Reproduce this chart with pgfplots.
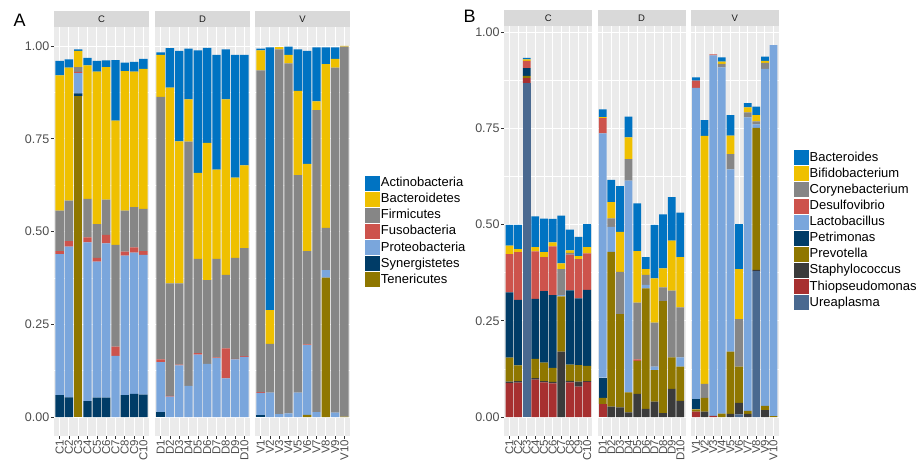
\documentclass[border=0pt]{standalone}
\usepackage{fontspec}
\setmainfont{Liberation Sans}
\usepackage{pgfplots}
\usepackage{pgfplotstable}
\pgfplotsset{compat=1.18}

\definecolor{cBlue}{HTML}{0073C2}
\definecolor{cYellow}{HTML}{EFC000}
\definecolor{cGray}{HTML}{868686}
\definecolor{cRed}{HTML}{CD534C}
\definecolor{cLBlue}{HTML}{7AA6DC}
\definecolor{cNavy}{HTML}{003C67}
\definecolor{cOlive}{HTML}{8F7700}
\definecolor{cDGray}{HTML}{3B3B3B}
\definecolor{cDRed}{HTML}{A73030}
\definecolor{cSlate}{HTML}{4A6990}
\definecolor{panelbg}{HTML}{EBEBEB}
\definecolor{stripbg}{HTML}{D9D9D9}
\definecolor{gray30}{HTML}{4D4D4D}
\definecolor{gray20}{HTML}{333333}
\definecolor{gray10}{HTML}{1A1A1A}

% panel A: phylum level
\pgfplotstableread{
n Ten Syn Prot Fuso Firm Bact Act
1 0 0.059 0.380 0.008 0.109 0.365 0.039
2 0 0.053 0.406 0.015 0.109 0.359 0.022
3 0.865 0.007 0.055 0.003 0.013 0.044 0.004
4 0 0.043 0.428 0.013 0.104 0.360 0.020
5 0 0.052 0.367 0.010 0.091 0.411 0.029
6 0 0.052 0.416 0.023 0.095 0.357 0.018
7 0 0 0.165 0.025 0.274 0.335 0.163
8 0 0.059 0.376 0.011 0.110 0.376 0.023
9 0 0.062 0.381 0.014 0.109 0.365 0.026
10 0 0.060 0.377 0.010 0.114 0.377 0.027
}\tabAC
\pgfplotstableread{
n Ten Syn Prot Fuso Firm Bact Act
1 0 0.013 0.135 0.007 0.708 0.113 0.007
2 0 0 0.055 0.002 0.303 0.528 0.106
3 0 0 0.139 0.002 0.219 0.383 0.244
4 0 0 0.084 0 0.658 0.114 0.137
5 0 0 0.168 0.004 0.254 0.232 0.330
6 0 0 0.143 0 0.226 0.370 0.256
7 0 0 0.159 0.002 0.265 0.241 0.309
8 0 0 0.104 0.081 0.198 0.473 0.135
9 0 0 0.155 0.002 0.272 0.216 0.331
10 0 0 0.162 0.002 0.291 0.223 0.298
}\tabAD
\pgfplotstableread{
n Ten Syn Prot Fuso Firm Bact Act
1 0 0.005 0.060 0.002 0.867 0.054 0.005
2 0 0 0.066 0 0.131 0.091 0.708
3 0 0 0.008 0 0.983 0.006 0
4 0 0 0.010 0 0.943 0.023 0.022
5 0 0 0.066 0 0.586 0.227 0.112
6 0.006 0 0.188 0.002 0.251 0.235 0.305
7 0 0 0.013 0 0.814 0.024 0.145
8 0.376 0 0.020 0 0.114 0.441 0.045
9 0 0 0.012 0 0.930 0.023 0.031
10 0.001 0 0 0 0.997 0.002 0
}\tabAV

% panel B: genus level
\pgfplotstableread{
n Ure Thio Staph Prev Petr Lact Desulf Coryn Bifido Bact
1 0 0.088 0.004 0.062 0.170 0 0.099 0 0.022 0.054
2 0 0.089 0.004 0.041 0.170 0 0.124 0 0.008 0.063
3 0.867 0.013 0 0.006 0.020 0 0.019 0 0.004 0.004
4 0 0.097 0.004 0.050 0.156 0 0.123 0 0.011 0.080
5 0 0.090 0.003 0.048 0.186 0 0.088 0 0.013 0.087
6 0 0.0875 0.004 0.036 0.189 0 0.127 0 0.010 0.061
7 0 0 0.170 0.143 0 0.004 0 0.067 0.015 0.124
8 0 0.090 0.004 0.042 0.193 0 0.093 0.004 0.007 0.054
9 0 0.079 0.013 0.043 0.173 0 0.102 0 0.008 0.050
10 0 0.091 0.002 0.040 0.197 0 0.095 0 0.016 0.060
}\tabBC
\pgfplotstableread{
n Ure Thio Staph Prev Petr Lact Desulf Coryn Bifido Bact
1 0 0.034 0 0.016 0.052 0.635 0.039 0 0.003 0.020
2 0 0 0.027 0.402 0 0.065 0 0.022 0.042 0.058
3 0 0 0.025 0.242 0 0 0 0.110 0.104 0.119
4 0 0 0.012 0.052 0 0.550 0 0.056 0.056 0.054
5 0 0 0.060 0.086 0 0 0.004 0.147 0.134 0.124
6 0 0 0.021 0.313 0 0.009 0 0.026 0.015 0.031
7 0 0 0.040 0.082 0 0.009 0 0.114 0.115 0.139
8 0 0 0.010 0.291 0 0 0 0.036 0.049 0.140
9 0 0 0.073 0.082 0 0 0 0.173 0.130 0.113
10 0 0 0.042 0.089 0 0.024 0 0.130 0.130 0.116
}\tabBD
\pgfplotstableread{
n Ure Thio Staph Prev Petr Lact Desulf Coryn Bifido Bact
1 0 0.014 0 0.006 0.027 0.808 0.019 0 0 0.008
2 0 0 0.014 0.036 0 0 0 0.036 0.644 0.041
3 0 0.003 0 0 0 0.936 0.003 0 0 0
4 0 0 0 0.009 0 0.899 0 0.009 0.006 0.011
5 0 0 0.008 0.162 0 0.473 0 0.040 0.048 0.053
6 0.007 0 0.030 0.094 0 0 0 0.123 0.130 0.117
7 0 0 0.008 0.008 0 0.762 0 0.013 0.013 0.011
8 0.379 0 0.003 0.369 0 0.009 0 0.008 0.016 0.022
9 0 0 0.018 0.011 0 0.875 0 0.016 0.005 0.011
10 0 0 0 0.002 0 0.964 0 0 0 0
}\tabBV

\newcommand{\phylumbars}[1]{%
  \addplot[fill=cOlive,draw=none] table[x=n,y=Ten]{#1};
  \addplot[fill=cNavy,draw=none] table[x=n,y=Syn]{#1};
  \addplot[fill=cLBlue,draw=none] table[x=n,y=Prot]{#1};
  \addplot[fill=cRed,draw=none] table[x=n,y=Fuso]{#1};
  \addplot[fill=cGray,draw=none] table[x=n,y=Firm]{#1};
  \addplot[fill=cYellow,draw=none] table[x=n,y=Bact]{#1};
  \addplot[fill=cBlue,draw=none] table[x=n,y=Act]{#1};
}
\newcommand{\genusbars}[1]{%
  \addplot[fill=cSlate,draw=none] table[x=n,y=Ure]{#1};
  \addplot[fill=cDRed,draw=none] table[x=n,y=Thio]{#1};
  \addplot[fill=cDGray,draw=none] table[x=n,y=Staph]{#1};
  \addplot[fill=cOlive,draw=none] table[x=n,y=Prev]{#1};
  \addplot[fill=cNavy,draw=none] table[x=n,y=Petr]{#1};
  \addplot[fill=cLBlue,draw=none] table[x=n,y=Lact]{#1};
  \addplot[fill=cRed,draw=none] table[x=n,y=Desulf]{#1};
  \addplot[fill=cGray,draw=none] table[x=n,y=Coryn]{#1};
  \addplot[fill=cYellow,draw=none] table[x=n,y=Bifido]{#1};
  \addplot[fill=cBlue,draw=none] table[x=n,y=Bact]{#1};
}

\pgfplotsset{
  facet/.style={
    scale only axis, anchor=south west,
    ybar stacked, bar width=0.9,
    xmin=0.4, xmax=10.6, xtick={1,2,3,4,5,6,7,8,9,10},
    ytick={0,0.25,0.5,0.75,1},
    minor ytick={0.125,0.375,0.625,0.875},
    axis background/.style={fill=panelbg},
    axis line style={draw=none},
    xmajorgrids, ymajorgrids, yminorgrids,
    major grid style={white, line width=0.9pt},
    minor grid style={white, line width=0.45pt},
    tick align=outside, major tick length=3pt, minor tick length=0pt,
    tick style={gray20, line width=0.6pt},
    xtick pos=left, ytick pos=left,
    xticklabel style={rotate=90, anchor=east, font=\fontsize{11.5}{11.5}\selectfont, text=gray30, inner sep=1pt},
    yticklabel style={font=\fontsize{12.5}{12.5}\selectfont, text=gray30, inner sep=1.5pt},
    every axis title shift=0pt,
    title style={at={(0.5,1)}, anchor=south, yshift=0pt, fill=stripbg, inner sep=0pt,
      minimum height=16.5pt, font=\fontsize{9.5}{9.5}\selectfont, text=gray10},
    legend image code/.code={\fill[##1] (0pt,-7.5pt) rectangle (14.5pt,7.5pt);},
    reverse legend,
    legend style={draw=none, fill=none, inner sep=0pt, row sep=0pt,
      font=\fontsize{13}{15}\selectfont, cells={anchor=west},
      nodes={inner sep=1pt, text height=10.5pt, text depth=3.6pt}},
  },
  facetA/.style={facet, width=95pt, height=408.1pt, ymin=-0.05, ymax=1.05,
    title style={minimum width=95pt}},
  facetB/.style={facet, width=88pt, height=409.1pt, ymin=-0.0483, ymax=1.0143,
    title style={minimum width=88pt}},
  noy/.style={yticklabels={}, ytick style={draw=none}},
}

\begin{document}
\begin{tikzpicture}
\path[use as bounding box] (0,0) rectangle (921pt,461pt);

\node[anchor=base west, font=\fontsize{18}{18}\selectfont] at (10pt,434pt) {A};
\node[anchor=base west, font=\fontsize{18}{18}\selectfont] at (460pt,438pt) {B};

% ---- panel A ----
\begin{axis}[facetA, at={(54pt,25.45pt)}, title=C,
  yticklabels={0.00,0.25,0.50,0.75,1.00},
  xticklabels={C1,C2,C3,C4,C5,C6,C7,C8,C9,C10}]
\phylumbars{\tabAC}
\end{axis}
\begin{axis}[facetA, noy, at={(155pt,25.45pt)}, title=D,
  xticklabels={D1,D2,D3,D4,D5,D6,D7,D8,D9,D10}]
\phylumbars{\tabAD}
\end{axis}
\begin{axis}[facetA, noy, at={(255pt,25.45pt)}, title=V,
  xticklabels={V1,V2,V3,V4,V5,V6,V7,V8,V9,V10},
  legend style={at={(1.16,0.5)}, anchor=west}]
\phylumbars{\tabAV}
\legend{Tenericutes,Synergistetes,Proteobacteria,Fusobacteria,Firmicutes,Bacteroidetes,Actinobacteria}
\end{axis}

% ---- panel B ----
\begin{axis}[facetB, at={(504.3pt,25.4pt)}, title=C,
  yticklabels={0.00,0.25,0.50,0.75,1.00},
  xticklabels={C1,C2,C3,C4,C5,C6,C7,C8,C9,C10}]
\genusbars{\tabBC}
\end{axis}
\begin{axis}[facetB, noy, at={(597.5pt,25.4pt)}, title=D,
  xticklabels={D1,D2,D3,D4,D5,D6,D7,D8,D9,D10}]
\genusbars{\tabBD}
\end{axis}
\begin{axis}[facetB, noy, at={(690.7pt,25.4pt)}, title=V,
  xticklabels={V1,V2,V3,V4,V5,V6,V7,V8,V9,V10},
  legend style={at={(1.174,0.502)}, anchor=west}]
\genusbars{\tabBV}
\legend{Ureaplasma,Thiopseudomonas,Staphylococcus,Prevotella,Petrimonas,Lactobacillus,Desulfovibrio,Corynebacterium,Bifidobacterium,Bacteroides}
\end{axis}
\end{tikzpicture}
\end{document}
